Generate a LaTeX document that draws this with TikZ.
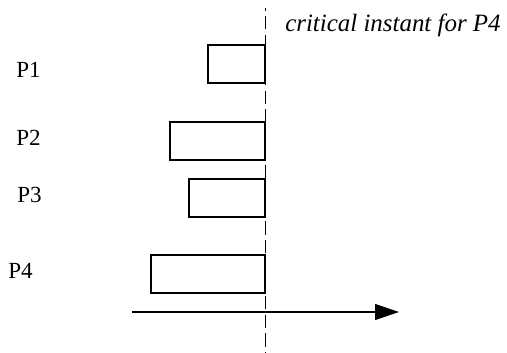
\documentclass[tikz,border=0pt]{standalone}
\usepackage{fontspec}
\setmainfont{Liberation Serif}
\usetikzlibrary{arrows.meta}
\begin{document}
\begin{tikzpicture}[x=0.75pt,y=-0.75pt,
  task/.style={draw, line width=0.9pt, inner sep=0pt, outer sep=0pt,
    minimum height=28.5pt, anchor=north east},
  proc/.style={anchor=base west, inner sep=0pt, font=\fontsize{17.3}{20}\selectfont},
  note/.style={anchor=base west, inner sep=0pt, font=\fontsize{18.7}{22}\selectfont\itshape},
  instant/.style={line width=0.7pt, dash pattern=on 10pt off 4pt, dash phase=-6pt},
  timeline/.style={line width=1pt, -{Triangle[length=18pt,width=12pt]}}]
\useasboundingbox (0,0) rectangle (507,353);

% critical instant marker
\coordinate (ctop) at (265,8);
\coordinate (cbot) at (265,353);
\draw[instant] (ctop) -- (cbot);
\node[note] (lbl) at (285,32) {critical instant for P4};

% process labels
\node[proc] (p1) at (16,78) {P1};
\node[proc] (p2) at (16,145) {P2};
\node[proc] (p3) at (17,202) {P3};
\node[proc] (p4) at (8,278) {P4};

% execution boxes ending at the critical instant
\node[task, minimum width=42.75pt] (b1) at (265,45) {};
\node[task, minimum width=71.25pt] (b2) at (265,122) {};
\node[task, minimum width=57pt]    (b3) at (265,179) {};
\node[task, minimum width=85.5pt]  (b4) at (265,255) {};

% time axis
\coordinate (t0) at (132,312);
\coordinate (t1) at (399,312);
\draw[timeline] (t0) -- (t1);
\end{tikzpicture}
\end{document}
